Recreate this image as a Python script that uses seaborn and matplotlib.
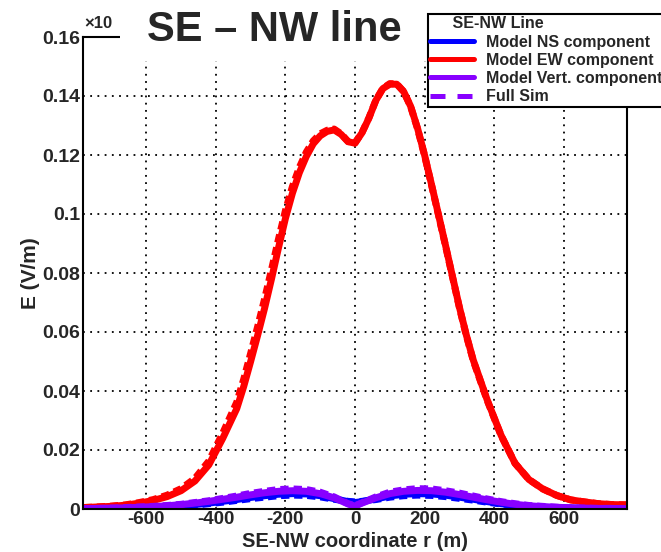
import pandas as pd
import matplotlib
matplotlib.use("Agg")
import matplotlib.pyplot as plt
import seaborn as sns
from matplotlib.patches import Rectangle
from matplotlib.lines import Line2D
from matplotlib.ticker import MultipleLocator, FuncFormatter

# SE-NW coordinate (m) for the EW component (finer sampling around the peak)
r_ew = [-780, -740, -700, -660, -620, -580, -540, -500, -460, -420, -380, -340,
        -320, -300, -280, -260, -240, -220, -200, -180, -160, -140, -120, -100,
        -80, -60, -40, -20, 0, 20, 40, 60, 80, 100, 120, 140, 160, 180, 200,
        220, 240, 260, 280, 300, 320,
        340, 380, 420, 460, 500, 540, 580, 620, 660, 700, 740, 780]

# field amplitude E (V/m)
ew_model = [0.0005, 0.0007, 0.0009, 0.0013, 0.0020, 0.0029, 0.0042, 0.0062, 0.0095, 0.0150, 0.0240, 0.0340,
            0.0415, 0.0500, 0.0588, 0.0680, 0.0780, 0.0885, 0.0985, 0.1070, 0.1140, 0.1195, 0.1238, 0.1265,
            0.1280, 0.1285, 0.1270, 0.1245, 0.1240, 0.1275, 0.1325, 0.1385, 0.1425, 0.1440, 0.1440, 0.1415,
            0.1365, 0.1290, 0.1200, 0.1100, 0.0998, 0.0895, 0.0790, 0.0685, 0.0590,
            0.0505, 0.0370, 0.0250, 0.0155, 0.0100, 0.0068, 0.0046, 0.0031, 0.0024, 0.0018, 0.0015, 0.0014]
ew_sim = [0.0005, 0.0007, 0.0010, 0.0014, 0.0022, 0.0032, 0.0047, 0.0069, 0.0104, 0.0163, 0.0258, 0.0362,
          0.0440, 0.0528, 0.0618, 0.0712, 0.0812, 0.0915, 0.1012, 0.1093, 0.1158, 0.1210, 0.1248, 0.1272,
          0.1284, 0.1288, 0.1272, 0.1246, 0.1241, 0.1276, 0.1326, 0.1386, 0.1426, 0.1442, 0.1441, 0.1415,
          0.1364, 0.1288, 0.1198, 0.1098, 0.0996, 0.0893, 0.0788, 0.0683, 0.0588,
          0.0503, 0.0368, 0.0249, 0.0155, 0.0100, 0.0068, 0.0046, 0.0031, 0.0024, 0.0018, 0.0015, 0.0014]

# SE-NW coordinate (m) for the small NS and vertical components
r_small = [-780, -740, -700, -660, -620, -580, -540, -500, -460, -420,
           -380, -340, -300, -260, -220, -180, -140, -100, -60, -20, 0,
           20, 60, 100, 140, 180, 220, 260, 300, 340, 380,
           420, 460, 500, 540, 580, 620, 660, 700, 740, 780]

vert_model = [0.0001, 0.0002, 0.0003, 0.0004, 0.0006, 0.0008, 0.0011, 0.0015, 0.0020, 0.0026,
              0.0033, 0.0040, 0.0048, 0.0055, 0.0060, 0.0062, 0.0060, 0.0052, 0.0038, 0.0017, 0.0010,
              0.0020, 0.0038, 0.0052, 0.0060, 0.0063, 0.0062, 0.0057, 0.0049, 0.0040, 0.0031,
              0.0023, 0.0016, 0.0011, 0.0008, 0.0006, 0.0004, 0.0003, 0.0002, 0.0002, 0.0001]
vert_sim = [0.0001, 0.0002, 0.0003, 0.0005, 0.0007, 0.0009, 0.0012, 0.0016, 0.0022, 0.0028,
            0.0036, 0.0044, 0.0053, 0.0060, 0.0066, 0.0068, 0.0066, 0.0057, 0.0041, 0.0018, 0.0011,
            0.0021, 0.0041, 0.0057, 0.0065, 0.0069, 0.0068, 0.0062, 0.0054, 0.0044, 0.0034,
            0.0025, 0.0018, 0.0012, 0.0009, 0.0006, 0.0004, 0.0003, 0.0002, 0.0002, 0.0001]
ns_model = [0.0001, 0.0001, 0.0002, 0.0003, 0.0004, 0.0006, 0.0008, 0.0011, 0.0015, 0.0020,
            0.0026, 0.0032, 0.0039, 0.0045, 0.0050, 0.0052, 0.0051, 0.0045, 0.0035, 0.0025, 0.0022,
            0.0025, 0.0034, 0.0044, 0.0050, 0.0052, 0.0051, 0.0047, 0.0040, 0.0033, 0.0025,
            0.0018, 0.0013, 0.0009, 0.0006, 0.0004, 0.0003, 0.0002, 0.0001, 0.0001, 0.0001]
ns_sim = [0.0001, 0.0001, 0.0002, 0.0003, 0.0004, 0.0005, 0.0007, 0.0010, 0.0013, 0.0018,
          0.0023, 0.0029, 0.0035, 0.0040, 0.0045, 0.0047, 0.0046, 0.0041, 0.0033, 0.0026, 0.0024,
          0.0026, 0.0032, 0.0040, 0.0045, 0.0047, 0.0046, 0.0042, 0.0036, 0.0030, 0.0023,
          0.0017, 0.0012, 0.0008, 0.0006, 0.0004, 0.0003, 0.0002, 0.0001, 0.0001, 0.0001]

legend_labels = ["Model NS component", "Model EW component", "Model Vert. component", "Full Sim"]

BLUE, RED, VIOLET = "#0000ff", "#ff0000", "#8800ff"

sns.set_style("white")
plt.rcParams["font.family"] = ["Liberation Sans", "DejaVu Sans"]
plt.rcParams["font.weight"] = "bold"

W, H = 661, 552
fig = plt.figure(figsize=(W / 100, H / 100), dpi=100)
ax = fig.add_axes([83 / W, 1 - 509 / H, (627 - 83) / W, (509 - 37) / H])

# draw order: NS, EW, Vert (model solid, full sim dashed)
series = [
    (r_small, ns_model, BLUE, False), (r_small, ns_sim, BLUE, True),
    (r_ew, ew_model, RED, False), (r_ew, ew_sim, RED, True),
    (r_small, vert_model, VIOLET, False), (r_small, vert_sim, VIOLET, True),
]
for xs, vals, col, dashed in series:
    df = pd.DataFrame({"r": xs, "E": vals})
    sns.lineplot(data=df, x="r", y="E", color=col, lw=5, estimator=None,
                 sort=False, ax=ax)
    if dashed:
        ax.lines[-1].set_dashes([1.2, 0.7])

ax.set_xlim(-782, 782)
ax.set_ylim(0, 0.16)

ax.xaxis.set_major_locator(MultipleLocator(200))
ax.xaxis.set_minor_locator(MultipleLocator(50))
ax.yaxis.set_major_locator(MultipleLocator(0.02))
ax.yaxis.set_minor_locator(MultipleLocator(0.005))
ax.yaxis.set_major_formatter(FuncFormatter(lambda v, p: "%g" % round(v, 4)))
ax.xaxis.set_major_formatter(FuncFormatter(lambda v, p: "%g" % v))

ax.tick_params(axis="x", which="major", direction="in", length=11, width=1.5,
               labelsize=13.5, pad=1.5, top=False)
ax.tick_params(axis="x", which="minor", direction="in", length=5, width=1.5, top=False)
ax.tick_params(axis="y", which="major", direction="in", length=9, width=1.5,
               labelsize=14, pad=2, right=False)
ax.tick_params(axis="y", which="minor", direction="in", length=5, width=1.5, right=False)
for s in ax.spines.values():
    s.set_linewidth(1.5)
    s.set_color("black")

ax.grid(True, which="major", color="black", lw=1.3, linestyle=(0, (1, 3)))
ax.set_axisbelow(True)

ax.set_xlabel("SE-NW coordinate r (m)", fontsize=14.5, fontweight="bold")
ax.set_ylabel("E (V/m)", fontsize=15, fontweight="bold")
ax.xaxis.set_label_coords(0.5, -0.049)
ax.yaxis.set_label_coords(-0.079, 0.5)

# white title pave covering the top of the frame
fig.add_artist(Rectangle((120 / W, 1 - 61 / H), (428 - 120) / W, 61 / H,
                         transform=fig.transFigure, facecolor="white",
                         edgecolor="none", zorder=5))
fig.text(274 / W, 1 - 30 / H, "SE \u2013 NW line", fontsize=30, fontweight="bold",
         ha="center", va="center", zorder=6)
fig.text(84 / W, 1 - 24 / H, "\u00d710", fontsize=12, ha="left", va="center", zorder=6)

handles = [
    Line2D([], [], color=BLUE, lw=3.6),
    Line2D([], [], color=RED, lw=3.6),
    Line2D([], [], color=VIOLET, lw=3.6),
    Line2D([], [], color=VIOLET, lw=3.6, dashes=[3, 2.4]),
]
leg = fig.legend(handles, legend_labels, loc="upper left",
                 bbox_to_anchor=(428 / W, 1 - 14 / H), borderaxespad=0,
                 title="     SE-NW Line",
                 title_fontproperties={"weight": "bold", "size": 11.5},
                 alignment="left", prop={"weight": "bold", "size": 11.5},
                 frameon=True, fancybox=False, framealpha=1, edgecolor="black",
                 handlelength=2.7, handletextpad=0.75, labelspacing=0.2,
                 borderpad=0.15)
leg.get_frame().set_linewidth(1.5)
leg.set_zorder(7)

fig.savefig("out.png", dpi=100)
